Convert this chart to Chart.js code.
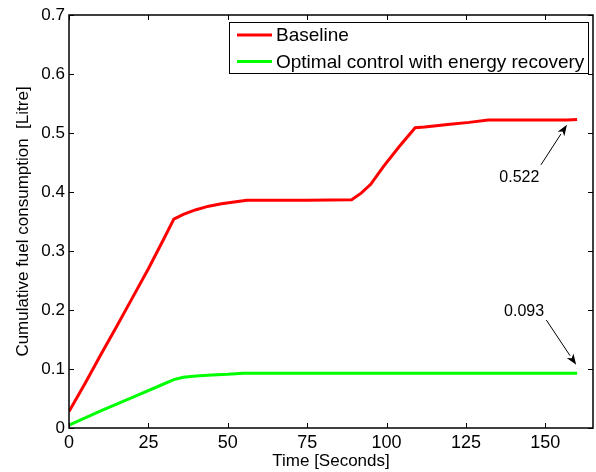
<!DOCTYPE html>
<html>
<head>
<meta charset="utf-8">
<script src="https://cdn.jsdelivr.net/npm/chart.js@4.4.1/dist/chart.umd.min.js"></script>
<style>
  body { margin: 0; background: #fff; }
  canvas { display: block; }
</style>
</head>
<body>
<canvas id="fuel" width="596" height="472"></canvas>
<script>
// values
var baseTime = [0, 5, 10, 15, 20, 25, 30, 33, 36, 40, 44, 48, 52, 56, 60, 75, 89, 92, 95, 99, 104, 109, 112, 120, 126, 132, 145, 157, 160];
var baseFuel = [0.028, 0.075, 0.124, 0.172, 0.221, 0.27, 0.322, 0.354, 0.362, 0.370, 0.376, 0.380, 0.383, 0.386, 0.386, 0.386, 0.387, 0.398, 0.413, 0.443, 0.477, 0.509, 0.510, 0.515, 0.518, 0.522, 0.522, 0.522, 0.523];
var optTime = [0, 10, 20, 30, 33, 36, 40, 45, 50, 55, 100, 160];
var optFuel = [0.005, 0.029, 0.052, 0.075, 0.082, 0.086, 0.088, 0.090, 0.091, 0.093, 0.093, 0.093];
var seriesNames = ['Baseline', 'Optimal control with energy recovery'];
var xTickValues = [0, 25, 50, 75, 100, 125, 150];
var yTickValues = [0, 0.1, 0.2, 0.3, 0.4, 0.5, 0.6, 0.7];

// end value callouts: label, text centre, arrow tail, arrow tip (data units)
var callouts = [
    { text: '0.522', tx: 141.8, ty: 0.425, x0: 148.6, y0: 0.446, x1: 156.8, y1: 0.514 },
    { text: '0.093', tx: 143.3, ty: 0.197, x0: 150.3, y0: 0.183, x1: 159.7, y1: 0.107 }
];

var fontName = '"Liberation Sans", Arial, Helvetica, sans-serif';

function toPoints(xs, ys) {
    return xs.map(function(x, i) { return { x: x, y: ys[i] }; });
}

var framePlugin = {
    id: 'frame',
    afterDraw: function(chart) {
        var ctx = chart.ctx;
        var a = chart.chartArea;
        var xs = chart.scales.x;
        var ys = chart.scales.y;
        ctx.save();

        // box around the axes
        ctx.strokeStyle = '#000';
        ctx.lineWidth = 1.5;
        ctx.strokeRect(a.left, a.top, a.right - a.left, a.bottom - a.top);

        // inward ticks
        ctx.lineWidth = 1;
        ctx.beginPath();
        xTickValues.forEach(function(v) {
            var px = Math.round(xs.getPixelForValue(v)) + 0.5;
            ctx.moveTo(px, a.bottom); ctx.lineTo(px, a.bottom - 5);
            ctx.moveTo(px, a.top); ctx.lineTo(px, a.top + 5);
        });
        yTickValues.forEach(function(v) {
            var py = Math.round(ys.getPixelForValue(v)) + 0.5;
            ctx.moveTo(a.left, py); ctx.lineTo(a.left + 5, py);
            ctx.moveTo(a.right, py); ctx.lineTo(a.right - 5, py);
        });
        ctx.stroke();

        // legend box
        var lx = 229, ly = a.top + 7, lw = a.right - 5 - lx, lh = 51;
        ctx.fillStyle = '#fff';
        ctx.fillRect(lx, ly, lw, lh);
        ctx.strokeStyle = '#000';
        ctx.lineWidth = 1;
        ctx.strokeRect(lx + 0.5, ly + 0.5, lw, lh);
        ctx.font = '19px ' + fontName;
        ctx.textBaseline = 'middle';
        ctx.textAlign = 'left';
        chart.data.datasets.forEach(function(ds, i) {
            var rowY = ly + 13 + i * 26.5;
            ctx.strokeStyle = ds.borderColor;
            ctx.lineWidth = 3;
            ctx.beginPath();
            ctx.moveTo(lx + 8, rowY);
            ctx.lineTo(lx + 43, rowY);
            ctx.stroke();
            ctx.fillStyle = '#000';
            ctx.fillText(ds.label, lx + 47, rowY + 1);
        });

        // callouts with arrows
        ctx.font = '16px ' + fontName;
        ctx.textAlign = 'center';
        callouts.forEach(function(c) {
            var tx = xs.getPixelForValue(c.tx), ty = ys.getPixelForValue(c.ty);
            var x0 = xs.getPixelForValue(c.x0), y0 = ys.getPixelForValue(c.y0);
            var x1 = xs.getPixelForValue(c.x1), y1 = ys.getPixelForValue(c.y1);
            ctx.fillStyle = '#000';
            ctx.fillText(c.text, tx, ty);
            var ang = Math.atan2(y1 - y0, x1 - x0);
            var hl = 11, hw = 4;
            var bx = x1 - hl * Math.cos(ang), by = y1 - hl * Math.sin(ang);
            ctx.strokeStyle = '#000';
            ctx.lineWidth = 1;
            ctx.beginPath();
            ctx.moveTo(x0, y0);
            ctx.lineTo(bx, by);
            ctx.stroke();
            ctx.beginPath();
            ctx.moveTo(x1, y1);
            ctx.lineTo(bx + hw * Math.sin(ang), by - hw * Math.cos(ang));
            ctx.lineTo(x1 - (hl - 3) * Math.cos(ang), y1 - (hl - 3) * Math.sin(ang));
            ctx.lineTo(bx - hw * Math.sin(ang), by + hw * Math.cos(ang));
            ctx.closePath();
            ctx.fill();
        });
        ctx.restore();
    }
};

var ctx = document.getElementById('fuel').getContext('2d');
var chart = new Chart(ctx, {
    type: 'line',
    data: {
        datasets: [
            {
                label: seriesNames[0],
                data: toPoints(baseTime, baseFuel),
                borderColor: '#ff0000',
                borderWidth: 3,
                pointRadius: 0,
                tension: 0
            },
            {
                label: seriesNames[1],
                data: toPoints(optTime, optFuel),
                borderColor: '#00ff00',
                borderWidth: 3,
                pointRadius: 0,
                tension: 0
            }
        ]
    },
    options: {
        responsive: false,
        animation: false,
        devicePixelRatio: 1,
        layout: { padding: { left: 0, right: 3, top: 15, bottom: 0 } },
        plugins: {
            legend: { display: false },
            tooltip: { enabled: false }
        },
        scales: {
            x: {
                type: 'linear',
                min: 0,
                max: 165,
                grid: { display: false, drawTicks: false },
                border: { display: false },
                afterBuildTicks: function(scale) {
                    scale.ticks = xTickValues.map(function(v) { return { value: v }; });
                },
                afterFit: function(scale) { scale.height = 44; },
                ticks: {
                    color: '#000',
                    padding: 4,
                    maxRotation: 0,
                    font: { family: fontName, size: 18 }
                },
                title: {
                    display: true,
                    text: 'Time [Seconds]',
                    color: '#000',
                    padding: { top: 0, bottom: 0 },
                    font: { family: fontName, size: 17 }
                }
            },
            y: {
                min: 0,
                max: 0.7,
                grid: { display: false, drawTicks: false },
                border: { display: false },
                afterBuildTicks: function(scale) {
                    scale.ticks = yTickValues.map(function(v) { return { value: v }; });
                },
                afterFit: function(scale) { scale.width = 69; },
                ticks: {
                    color: '#000',
                    padding: 4,
                    font: { family: fontName, size: 17 },
                    callback: function(v) { return v === 0 ? '0' : v.toFixed(1); }
                },
                title: {
                    display: true,
                    text: 'Cumulative fuel consumption  [Litre]',
                    color: '#000',
                    padding: { top: 13, bottom: 0 },
                    font: { family: fontName, size: 17 }
                }
            }
        }
    },
    plugins: [framePlugin]
});
</script>
</body>
</html>
